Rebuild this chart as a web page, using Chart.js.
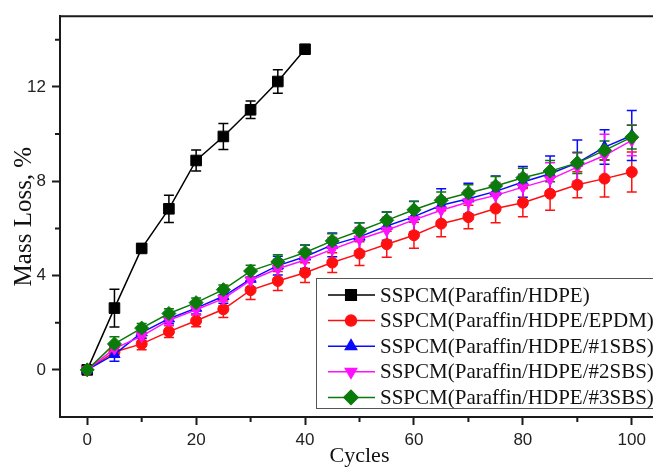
<!DOCTYPE html>
<html>
<head>
<meta charset="utf-8">
<title>Mass loss vs cycles</title>
<script src="https://cdn.jsdelivr.net/npm/chart.js@4/dist/chart.umd.min.js"></script>
<style>
  html, body { margin: 0; padding: 0; background: #fff; overflow: hidden; }
  #wrap { width: 670px; height: 467px; }
</style>
</head>
<body>
<div id="wrap"><canvas id="myChart"></canvas></div>
<script>
// cycles sampled every 5
const cycles = [0, 5, 10, 15, 20, 25, 30, 35, 40, 45, 50, 55, 60, 65, 70, 75, 80, 85, 90, 95, 100];

// mass loss, % (the plain HDPE sample stops at 40 cycles)
const hdpe = [0, 2.62, 5.15, 6.83, 8.88, 9.9, 11.03, 12.23, 13.6];
const hdpeErr = [0.05, 0.8, 0.1, 0.58, 0.45, 0.55, 0.37, 0.5, 0.1];

const epdm = [0, 0.76, 1.1, 1.62, 2.08, 2.57, 3.38, 3.77, 4.12, 4.55, 4.93, 5.33, 5.71, 6.2, 6.48, 6.84, 7.09, 7.47, 7.85, 8.11, 8.39];
const epdmErr = [0.05, 0.2, 0.25, 0.25, 0.25, 0.35, 0.4, 0.4, 0.42, 0.42, 0.5, 0.55, 0.55, 0.55, 0.5, 0.6, 0.6, 0.7, 0.55, 0.78, 0.85];

const sbs1 = [0, 0.66, 1.58, 2.17, 2.62, 3.12, 3.85, 4.42, 4.8, 5.3, 5.64, 6.1, 6.5, 6.98, 7.26, 7.57, 7.97, 8.32, 8.78, 9.45, 9.94];
const sbs1Err = [0.05, 0.3, 0.25, 0.2, 0.25, 0.3, 0.35, 0.4, 0.5, 0.5, 0.6, 0.6, 0.65, 0.7, 0.65, 0.65, 0.65, 0.75, 0.97, 0.73, 1.06];

const sbs2 = [0, 0.9, 1.43, 2.1, 2.55, 3.02, 3.8, 4.29, 4.66, 5.11, 5.54, 5.92, 6.36, 6.77, 7.12, 7.4, 7.75, 8.08, 8.6, 9.09, 9.73];
const sbs2Err = [0.05, 0.25, 0.2, 0.2, 0.2, 0.3, 0.4, 0.4, 0.45, 0.5, 0.5, 0.55, 0.5, 0.55, 0.5, 0.55, 0.55, 0.7, 0.6, 0.9, 0.65];

const sbs3 = [0, 1.1, 1.77, 2.39, 2.85, 3.4, 4.19, 4.58, 4.98, 5.47, 5.89, 6.34, 6.79, 7.19, 7.5, 7.8, 8.15, 8.43, 8.78, 9.31, 9.87];
const sbs3Err = [0.05, 0.3, 0.2, 0.2, 0.2, 0.2, 0.25, 0.3, 0.3, 0.3, 0.35, 0.35, 0.35, 0.35, 0.35, 0.4, 0.4, 0.45, 0.45, 0.4, 0.5];

const labels = [
  "SSPCM(Paraffin/HDPE)",
  "SSPCM(Paraffin/HDPE/EPDM)",
  "SSPCM(Paraffin/HDPE/#1SBS)",
  "SSPCM(Paraffin/HDPE/#2SBS)",
  "SSPCM(Paraffin/HDPE/#3SBS)",
];

const xTicks = [0, 20, 40, 60, 80, 100];
const xMinor = [10, 30, 50, 70, 90];
const yTicks = [0, 4, 8, 12];
const yMinor = [2, 6, 10, 14];

const AXIS = "#1a1a1a";
const serif = "'Liberation Serif', 'Times New Roman', serif";
const sans = "'Liberation Sans', Arial, sans-serif";

function pts(vals) {
  return vals.map((v, i) => ({ x: cycles[i], y: v }));
}

function series(label, vals, err, color, style, radius, rotation, order) {
  return {
    label: label,
    data: pts(vals),
    err: err,
    borderColor: color,
    backgroundColor: color,
    borderWidth: 1.5,
    pointStyle: style,
    pointRadius: radius,
    pointRotation: rotation,
    pointBorderWidth: 1,
    tension: 0,
    order: order,
  };
}

const datasets = [
  series(labels[0], hdpe, hdpeErr, "#000000", "rect", 7.5, 0, 4),
  series(labels[1], epdm, epdmErr, "#ff1010", "circle", 5.5, 0, 3),
  series(labels[2], sbs1, sbs1Err, "#0a0aff", "triangle", 6.5, 0, 2),
  series(labels[3], sbs2, sbs2Err, "#ff10ff", "triangle", 6.5, 180, 1),
  series(labels[4], sbs3, sbs3Err, "#0a7a0a", "rectRot", 7, 0, 0),
];

// vertical error bars with caps
const errorBars = {
  id: "errorBars",
  beforeDatasetsDraw(chart) {
    const ctx = chart.ctx;
    const xs = chart.scales.x;
    const ys = chart.scales.y;
    chart.data.datasets.forEach((ds) => {
      ctx.save();
      ctx.strokeStyle = ds.borderColor;
      ctx.lineWidth = 1.5;
      ds.data.forEach((p, i) => {
        const e = ds.err[i];
        const px = xs.getPixelForValue(p.x);
        const top = ys.getPixelForValue(p.y + e);
        const bot = ys.getPixelForValue(p.y - e);
        ctx.beginPath();
        ctx.moveTo(px, top);
        ctx.lineTo(px, bot);
        ctx.moveTo(px - 5, top);
        ctx.lineTo(px + 5, top);
        ctx.moveTo(px - 5, bot);
        ctx.lineTo(px + 5, bot);
        ctx.stroke();
      });
      ctx.restore();
    });
  },
};

// top frame line, minor ticks and the boxed legend
const frameAndLegend = {
  id: "frameAndLegend",
  afterDraw(chart) {
    const ctx = chart.ctx;
    const a = chart.chartArea;
    const xs = chart.scales.x;
    const ys = chart.scales.y;
    ctx.save();
    ctx.strokeStyle = AXIS;
    ctx.lineWidth = 2;
    ctx.beginPath();
    ctx.moveTo(a.left - 1, a.top);
    ctx.lineTo(a.right, a.top);
    ctx.stroke();
    ctx.beginPath();
    xMinor.forEach((v) => {
      const px = xs.getPixelForValue(v);
      ctx.moveTo(px, a.bottom);
      ctx.lineTo(px, a.bottom + 5);
    });
    yMinor.forEach((v) => {
      const py = ys.getPixelForValue(v);
      ctx.moveTo(a.left, py);
      ctx.lineTo(a.left - 5, py);
    });
    ctx.stroke();

    // legend box
    const bx = 316, by = 278, bw = 350, bh = 130;
    ctx.fillStyle = "#fff";
    ctx.fillRect(bx, by, bw, bh);
    ctx.strokeStyle = "#555";
    ctx.lineWidth = 1;
    ctx.strokeRect(bx + 0.5, by + 0.5, bw, bh);
    ctx.font = "21px " + serif;
    ctx.textBaseline = "middle";
    ctx.textAlign = "left";
    chart.data.datasets.forEach((ds, i) => {
      const ry = 295 + i * 25.6;
      ctx.strokeStyle = ds.borderColor;
      ctx.lineWidth = 1.5;
      ctx.beginPath();
      ctx.moveTo(328, ry);
      ctx.lineTo(375, ry);
      ctx.stroke();
      ctx.fillStyle = ds.backgroundColor;
      Chart.helpers.drawPoint(ctx, {
        pointStyle: ds.pointStyle,
        radius: ds.pointRadius,
        rotation: ds.pointRotation,
        borderWidth: 1,
      }, 351, ry);
      ctx.fillStyle = "#111";
      ctx.fillText(ds.label, 380, ry + 1);
    });
    ctx.restore();
  },
};

const ctx = document.getElementById("myChart");
const myChart = new Chart(ctx, {
  type: "line",
  data: { datasets: datasets },
  plugins: [errorBars, frameAndLegend],
  options: {
    responsive: true,
    maintainAspectRatio: false,
    animation: false,
    layout: { padding: { top: 13, right: 11, left: 0, bottom: 0 } },
    plugins: {
      legend: { display: false },
      tooltip: { enabled: false },
    },
    scales: {
      x: {
        type: "linear",
        min: -5,
        max: 105,
        afterFit(scale) { scale.height = 50; },
        afterBuildTicks(scale) { scale.ticks = xTicks.map((v) => ({ value: v })); },
        grid: { drawOnChartArea: false, tickLength: 8, tickWidth: 2, tickColor: AXIS },
        border: { color: AXIS, width: 2 },
        ticks: { color: "#222", font: { family: sans, size: 17 }, padding: 5, maxRotation: 0 },
        title: {
          display: true,
          text: "Cycles",
          color: "#111",
          font: { family: serif, size: 22, lineHeight: 1 },
          padding: { top: 0, bottom: 0 },
        },
      },
      y: {
        min: -2,
        max: 15,
        afterFit(scale) { scale.width = 60; },
        afterBuildTicks(scale) { scale.ticks = yTicks.map((v) => ({ value: v })); },
        grid: { drawOnChartArea: false, tickLength: 8, tickWidth: 2, tickColor: AXIS },
        border: { color: AXIS, width: 2 },
        ticks: { color: "#222", font: { family: sans, size: 17 }, padding: 6 },
        title: {
          display: true,
          text: "Mass Loss, %",
          color: "#111",
          font: { family: serif, size: 25, lineHeight: 1 },
          padding: { top: 12, bottom: 0 },
        },
      },
    },
  },
});
</script>
</body>
</html>
